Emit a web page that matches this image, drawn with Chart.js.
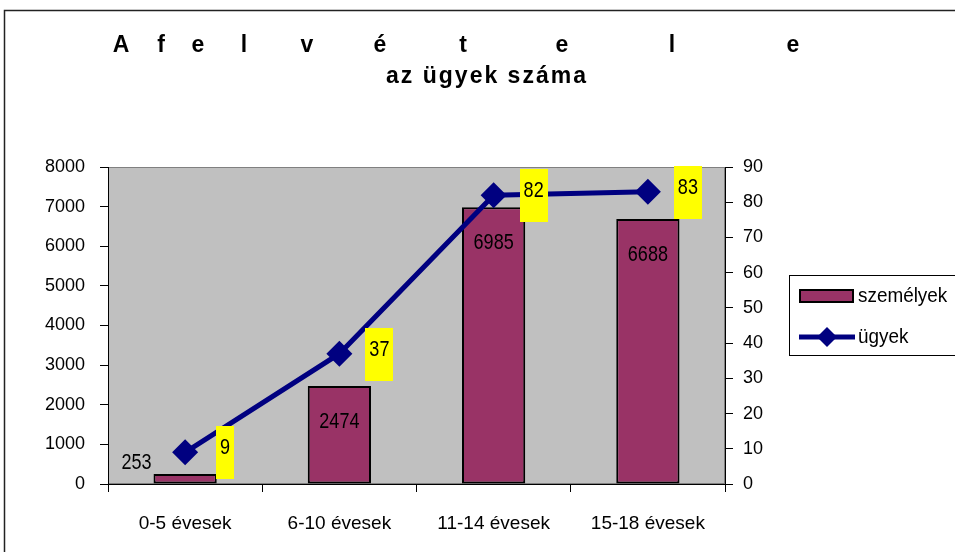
<!DOCTYPE html>
<html><head><meta charset="utf-8">
<script src="https://cdn.jsdelivr.net/npm/chart.js@4"></script>
<style>html,body{margin:0;padding:0;background:#fff}#wrap{width:955px;height:552px;position:relative}</style>
</head><body><div id="wrap"><canvas id="c" width="955" height="552"></canvas></div>
<script>
// ---- data ----
const titleLine1 = "Afelvétele";
const titleLine2 = "az ügyek száma";
const categories = ["0-5 évesek", "6-10 évesek", "11-14 évesek", "15-18 évesek"];
const szemelyekValues = [253, 2474, 6985, 6688];
const ugyekValues = [9, 37, 82, 83];
const seriesNames = ["személyek", "ügyek"];
const leftAxisRange = [0, 8000, 1000];
const rightAxisRange = [0, 90, 10];

// ---- layout / style ----
const FONT = "'Liberation Sans', Arial, sans-serif";
const BAR_COLOR = "#993366";
const LINE_COLOR = "#000080";
const title1X = [121, 161, 198, 244, 307, 380, 463, 562, 672, 793];

// draw horizontally condensed text (the original uses a narrow-looking face)
function condText(ctx, txt, x, y, align, size, sx) {
  ctx.save();
  ctx.font = size + "px " + FONT;
  ctx.textBaseline = 'middle';
  ctx.textAlign = align;
  ctx.translate(x, y);
  ctx.scale(sx, 1);
  ctx.fillText(txt, 0, 0);
  ctx.restore();
}

const bgPlugin = {
  id: 'bg',
  beforeDraw(chart) {
    const {ctx, chartArea: a} = chart;
    ctx.save();
    ctx.fillStyle = '#C0C0C0';
    ctx.fillRect(a.left, a.top, a.right - a.left, a.bottom - a.top);
    ctx.strokeStyle = '#808080';
    ctx.lineWidth = 1;
    ctx.strokeRect(a.left + 0.5, a.top + 0.5, a.right - a.left - 1, a.bottom - a.top - 1);
    ctx.restore();
  },
  afterDraw(chart) {
    const ctx = chart.ctx;
    ctx.save();
    ctx.strokeStyle = '#222';
    ctx.lineWidth = 1.5;
    ctx.strokeRect(4.5, 10.5, 1000, 600);
    ctx.fillStyle = '#000';
    ctx.textBaseline = 'middle';
    ctx.textAlign = 'center';
    ctx.font = "bold 23px " + FONT;
    [...titleLine1].forEach((ch, i) => ctx.fillText(ch, title1X[i], 46));
    if ('letterSpacing' in ctx) ctx.letterSpacing = '2px';
    ctx.fillText(titleLine2, 487, 77);
    if ('letterSpacing' in ctx) ctx.letterSpacing = '0px';
    // legend
    const bar = chart.data.datasets[0], line = chart.data.datasets[1];
    ctx.strokeStyle = '#000';
    ctx.lineWidth = 1;
    ctx.strokeRect(789.5, 275.5, 300, 80);
    ctx.fillStyle = bar.backgroundColor;
    ctx.fillRect(799, 289, 55, 14);
    ctx.lineWidth = 2;
    ctx.strokeRect(800, 290, 53, 12);
    ctx.strokeStyle = line.borderColor;
    ctx.lineWidth = 5;
    ctx.beginPath(); ctx.moveTo(799, 337); ctx.lineTo(855, 337); ctx.stroke();
    ctx.fillStyle = line.borderColor;
    ctx.beginPath(); ctx.moveTo(817, 337); ctx.lineTo(827, 327); ctx.lineTo(837, 337); ctx.lineTo(827, 347); ctx.closePath(); ctx.fill();
    ctx.fillStyle = '#000';
    condText(ctx, bar.label, 858, 296, 'left', 21, 0.9);
    condText(ctx, line.label, 858, 337, 'left', 21, 0.9);
    ctx.restore();
  }
};

const labelPlugin = {
  id: 'labels',
  afterDatasetsDraw(chart) {
    const ctx = chart.ctx;
    ctx.save();
    ctx.fillStyle = '#000';
    const SZ = 22, SX = 0.82;
    ctx.font = SZ + "px " + FONT;
    const bm = chart.getDatasetMeta(0);
    bm.data.forEach((el, i) => {
      const txt = String(chart.data.datasets[0].data[i]);
      if (el.base - el.y > 40) {
        condText(ctx, txt, el.x, el.y + 36, 'center', SZ, SX);
      } else {
        condText(ctx, txt, el.x - el.width / 2 - 2, el.y - 11, 'right', SZ, SX);
      }
    });
    const lm = chart.getDatasetMeta(1);
    lm.data.forEach((pt, i) => {
      const txt = String(chart.data.datasets[1].data[i]);
      ctx.font = SZ + "px " + FONT;
      const w = ctx.measureText(txt).width * SX;
      const cx = pt.x + 40, ty = pt.y - 4;
      ctx.fillStyle = '#FFFF00';
      ctx.fillRect(Math.round(cx - w / 2 - 4), Math.round(ty - 22), Math.round(w + 8), 53);
      ctx.fillStyle = '#000';
      condText(ctx, txt, cx, ty, 'center', SZ, SX);
    });
    ctx.restore();
  }
};

const plain = v => String(v);

new Chart(document.getElementById('c'), {
  data: {
    labels: categories,
    datasets: [
      {
        type: 'bar', label: seriesNames[0], data: szemelyekValues, yAxisID: 'y',
        backgroundColor: BAR_COLOR, borderColor: '#000', borderWidth: 2, borderSkipped: false,
        categoryPercentage: 1, barPercentage: 0.41, order: 1
      },
      {
        type: 'line', label: seriesNames[1], data: ugyekValues, yAxisID: 'y1',
        borderColor: LINE_COLOR, backgroundColor: LINE_COLOR, borderWidth: 5,
        pointStyle: 'rectRot', pointRadius: 13, pointHoverRadius: 13,
        pointBackgroundColor: LINE_COLOR, pointBorderColor: LINE_COLOR, pointBorderWidth: 0,
        tension: 0, fill: false, order: 0
      }
    ]
  },
  options: {
    responsive: false,
    animation: false,
    devicePixelRatio: 1,
    layout: {padding: {top: 167, left: 0, right: 0, bottom: 0}},
    plugins: {legend: {display: false}, title: {display: false}, tooltip: {enabled: false}},
    scales: {
      x: {
        offset: true,
        grid: {offset: true, drawOnChartArea: false, tickLength: 8, color: '#000'},
        border: {color: '#000', width: 1},
        ticks: {font: {family: FONT, size: 19}, color: '#000', padding: 20, maxRotation: 0},
        afterFit: s => { s.height = 68; }
      },
      y: {
        position: 'left', min: leftAxisRange[0], max: leftAxisRange[1],
        ticks: {stepSize: leftAxisRange[2], font: {family: FONT, size: 18}, color: '#000', padding: 15, callback: plain},
        grid: {drawOnChartArea: false, tickLength: 8, color: '#000'},
        border: {color: '#000', width: 1},
        afterFit: s => { s.width = 108; }
      },
      y1: {
        position: 'right', min: rightAxisRange[0], max: rightAxisRange[1],
        ticks: {stepSize: rightAxisRange[2], font: {family: FONT, size: 18}, color: '#000', padding: 10, callback: plain},
        grid: {drawOnChartArea: false, tickLength: 8, color: '#000'},
        border: {color: '#000', width: 1},
        afterFit: s => { s.width = 230; }
      }
    }
  },
  plugins: [bgPlugin, labelPlugin]
});
</script>
</body></html>
